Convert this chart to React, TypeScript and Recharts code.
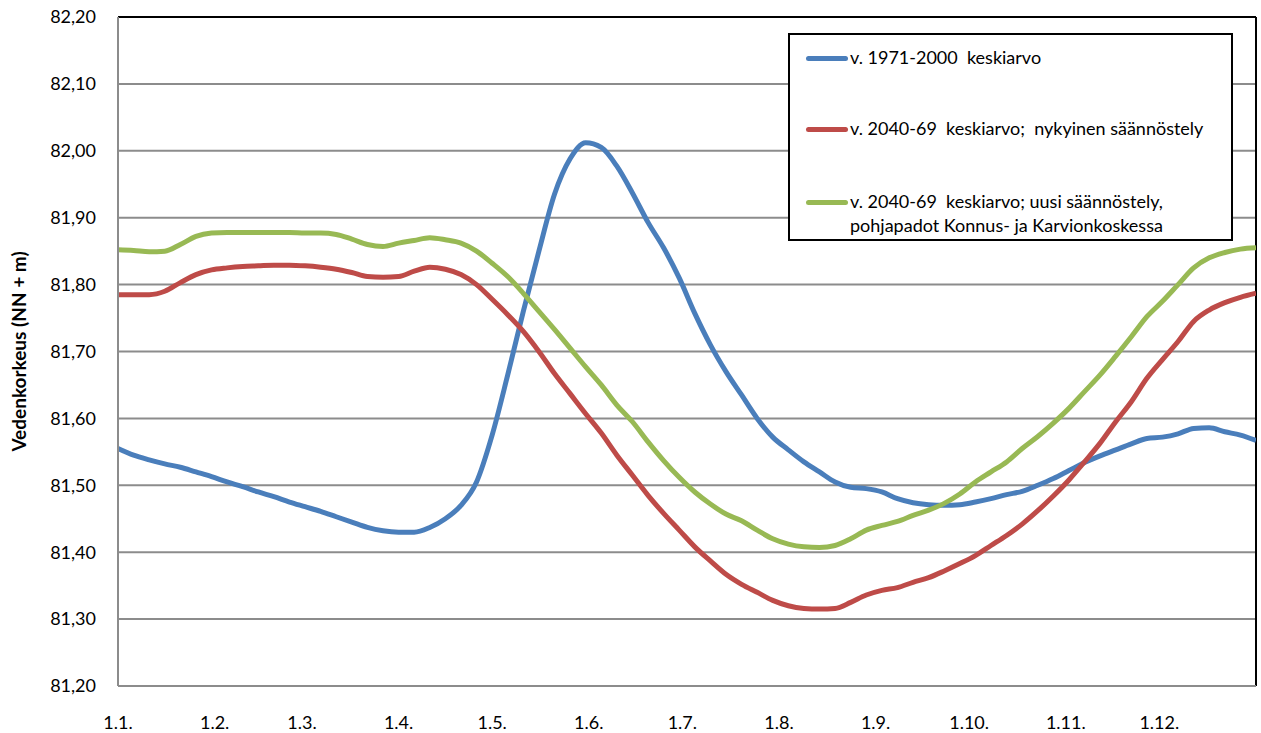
import { LineChart, Line, XAxis, YAxis, CartesianGrid, Legend, ReferenceLine } from "recharts";

// day of year (1.1. = 0), sampled every 5 days
const days = [
  0, 5, 10, 15, 20, 25, 30, 35, 40, 45, 50, 55, 60, 65, 70, 75, 80, 85, 90, 95,
  100, 105, 110, 115, 120, 125, 130, 135, 140, 145, 150, 155, 160, 165, 170, 175, 180, 185, 190, 195,
  200, 205, 210, 215, 220, 225, 230, 235, 240, 245, 250, 255, 260, 265, 270, 275, 280, 285, 290, 295,
  300, 305, 310, 315, 320, 325, 330, 335, 340, 345, 350, 355, 360, 365,
];

const avg1971 = [
  81.555, 81.545, 81.538, 81.532, 81.527, 81.52, 81.513, 81.505, 81.498, 81.49, 81.483, 81.475, 81.468, 81.461, 81.453, 81.445, 81.437, 81.432, 81.43, 81.43,
  81.437, 81.45, 81.47, 81.505, 81.575, 81.665, 81.76, 81.85, 81.935, 81.988, 82.012, 82.005, 81.977, 81.937, 81.893, 81.855, 81.81, 81.757, 81.71, 81.67,
  81.635, 81.6, 81.572, 81.553, 81.535, 81.52, 81.505, 81.497, 81.495, 81.49, 81.48, 81.474, 81.471, 81.47, 81.471, 81.475, 81.48, 81.486, 81.491, 81.5,
  81.51, 81.522, 81.534, 81.544, 81.553, 81.562, 81.57, 81.572, 81.577, 81.585, 81.586, 81.58, 81.575, 81.567,
];

const avg2040Now = [
  81.785, 81.785, 81.785, 81.79, 81.803, 81.815, 81.822, 81.825, 81.827, 81.828, 81.829, 81.829, 81.828, 81.826, 81.823, 81.818, 81.812, 81.811, 81.812, 81.82,
  81.826, 81.823, 81.815, 81.8, 81.778, 81.755, 81.73, 81.7, 81.667, 81.637, 81.607, 81.578, 81.545, 81.515, 81.485, 81.458, 81.433, 81.408, 81.387, 81.367,
  81.352, 81.34, 81.328, 81.32, 81.316, 81.315, 81.316, 81.325, 81.336, 81.343, 81.347, 81.355, 81.362, 81.372, 81.383, 81.395, 81.41, 81.425, 81.442, 81.462,
  81.484, 81.508, 81.535, 81.563, 81.595, 81.625, 81.66, 81.688, 81.715, 81.745, 81.762, 81.773, 81.781, 81.787,
];

const avg2040New = [
  81.852, 81.851, 81.849, 81.85, 81.86, 81.872, 81.877, 81.878, 81.878, 81.878, 81.878, 81.878, 81.877, 81.877, 81.875, 81.868, 81.86, 81.857, 81.862, 81.866,
  81.87, 81.867, 81.862, 81.85, 81.832, 81.812, 81.787, 81.76, 81.733, 81.705, 81.677, 81.65, 81.62, 81.595, 81.565, 81.537, 81.512, 81.49, 81.472, 81.457,
  81.447, 81.433, 81.42, 81.412, 81.408, 81.407, 81.41, 81.42, 81.433, 81.44, 81.446, 81.455, 81.463, 81.473, 81.487, 81.505, 81.52, 81.535, 81.555, 81.573,
  81.593, 81.615, 81.64, 81.665, 81.693, 81.722, 81.752, 81.775, 81.8, 81.825, 81.84, 81.848, 81.853, 81.855,
];

const monthStarts = [0, 31, 59, 90, 120, 151, 181, 212, 243, 273, 304, 334];
const monthLabels = ["1.1.", "1.2.", "1.3.", "1.4.", "1.5.", "1.6.", "1.7.", "1.8.", "1.9.", "1.10.", "1.11.", "1.12."];
const yTicks = [81.2, 81.3, 81.4, 81.5, 81.6, 81.7, 81.8, 81.9, 82.0, 82.1, 82.2];

const seriesNames = [
  "v. 1971-2000  keskiarvo",
  "v. 2040-69  keskiarvo;  nykyinen säännöstely",
  "v. 2040-69  keskiarvo; uusi säännöstely,\npohjapadot Konnus- ja Karvionkoskessa",
];
const colors = ["#4a7ebb", "#be4b48", "#98b954"];

const data = days.map((d, i) => ({
  day: d,
  s1: avg1971[i],
  s2: avg2040Now[i],
  s3: avg2040New[i],
}));

const FONT = "Lato, 'Open Sans', sans-serif";

function LegendBox({ payload }: any) {
  const items = payload || [];
  return (
    <div
      style={{
        width: 441,
        height: 204,
        border: "2px solid #000",
        background: "#fff",
        fontFamily: FONT,
        fontSize: 18,
        color: "#000",
        position: "relative",
      }}
    >
      {items.map((it: any, i: number) => (
        <div
          key={i}
          style={{
            position: "absolute",
            left: 16,
            top: [10, 81, 154][i],
            display: "flex",
            alignItems: "flex-start",
          }}
        >
          <div
            style={{
              width: 42,
              height: 5,
              borderRadius: 3,
              background: it.color,
              marginTop: 11,
              marginRight: 2,
            }}
          />
          <div style={{ whiteSpace: "pre", lineHeight: "24px" }}>{it.value}</div>
        </div>
      ))}
    </div>
  );
}

function YLabel({ viewBox }: any) {
  const cy = viewBox.y + viewBox.height / 2;
  return (
    <text
      x={18}
      y={cy}
      transform={`rotate(-90 18 ${cy})`}
      textAnchor="middle"
      dominantBaseline="central"
      style={{ fontFamily: FONT, fontSize: 19, fontWeight: 700, fill: "#000" }}
    >
      Vedenkorkeus (NN + m)
    </text>
  );
}

export default function App() {
  return (
    <div style={{ position: "absolute", left: 0, top: 0, background: "#fff" }}>
      <LineChart width={1261} height={733} data={data} margin={{ top: 17, right: 5, left: 0, bottom: 17 }}>
        <CartesianGrid horizontal vertical={false} stroke="#8c8c8c" strokeWidth={2} />
        <XAxis
          dataKey="day"
          type="number"
          domain={[0, 365]}
          ticks={monthStarts}
          tickFormatter={(v) => monthLabels[monthStarts.indexOf(v)]}
          tickLine={false}
          axisLine={{ stroke: "#8c8c8c", strokeWidth: 2 }}
          tick={{ fontFamily: FONT, fontSize: 18, fill: "#000" }}
          tickMargin={24}
          height={30}
          interval={0}
          allowDataOverflow
        />
        <YAxis
          type="number"
          domain={[81.2, 82.2]}
          ticks={yTicks}
          tickFormatter={(v) => v.toFixed(2).replace(".", ",")}
          tickLine={false}
          axisLine={{ stroke: "#8c8c8c", strokeWidth: 2 }}
          tick={{ fontFamily: FONT, fontSize: 18, fill: "#000" }}
          tickMargin={16}
          width={118}
          interval={0}
          allowDataOverflow
          label={<YLabel />}
        />
        <ReferenceLine y={82.2} stroke="#000" strokeWidth={2} />
        <ReferenceLine x={365} stroke="#000" strokeWidth={2} />
        <Legend
          layout="horizontal"
          verticalAlign="middle"
          align="center"
          content={<LegendBox />}
          wrapperStyle={{ left: 788, top: 33, width: 445, height: 208 }}
        />
        <Line type="monotone" dataKey="s1" name={seriesNames[0]} stroke={colors[0]} strokeWidth={5} dot={false} isAnimationActive={false} />
        <Line type="monotone" dataKey="s2" name={seriesNames[1]} stroke={colors[1]} strokeWidth={5} dot={false} isAnimationActive={false} />
        <Line type="monotone" dataKey="s3" name={seriesNames[2]} stroke={colors[2]} strokeWidth={5} dot={false} isAnimationActive={false} />
      </LineChart>
    </div>
  );
}
